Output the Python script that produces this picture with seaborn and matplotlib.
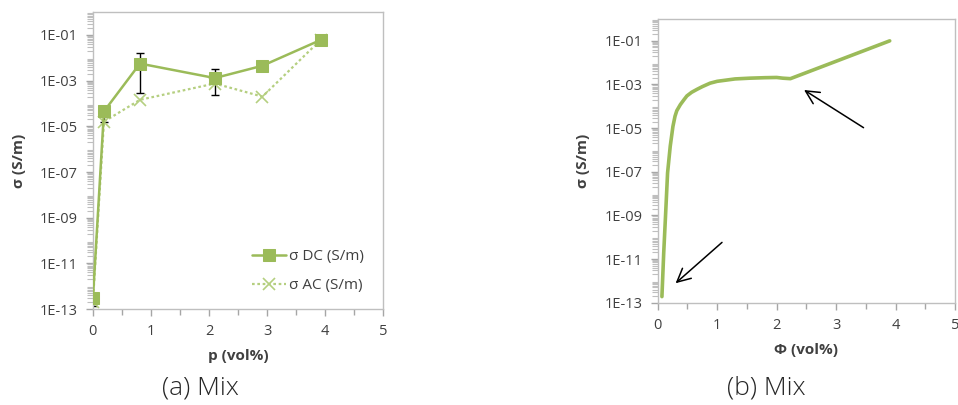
import numpy as np
import pandas as pd
import matplotlib
import matplotlib.pyplot as plt
import matplotlib.ticker as mticker
import seaborn as sns

plt.switch_backend('agg')

# panel (a): measured conductivity
p_vol = [0.0, 0.19, 0.81, 2.1, 2.92, 3.92]
sigma_dc = [3.0e-13, 4.5e-5, 5.6e-3, 1.3e-3, 4.5e-3, 6.0e-2]
sigma_ac = [2.0e-13, 1.6e-5, 1.45e-4, 7.5e-4, 2.0e-4, 6.0e-2]
dc_err_low = [1.3e-13, 1.5e-5, 2.8e-4, 2.4e-4, 4.5e-3, 6.0e-2]
dc_err_high = [3.0e-13, 4.5e-5, 1.7e-2, 3.2e-3, 4.5e-3, 6.0e-2]

# panel (b): model curve
phi_vol = [0.07, 0.10, 0.13, 0.165, 0.21, 0.255, 0.29, 0.32, 0.38, 0.44,
           0.49, 0.57, 0.66, 0.75, 0.88, 1.0, 1.16, 1.3, 1.55, 1.8, 2.0,
           2.1, 2.23, 3.9]
sigma_fit = [1.9e-13, 1.9e-11, 8.9e-10, 8.9e-8, 1.5e-6, 1.2e-5, 3.5e-5,
             6.3e-5, 1.2e-4, 2.0e-4, 3.0e-4, 4.4e-4, 6.0e-4, 8.0e-4,
             1.15e-3, 1.4e-3, 1.6e-3, 1.8e-3, 1.95e-3, 2.05e-3, 2.1e-3,
             1.95e-3, 1.85e-3, 0.1]

# arrows in panel (b): (tail, head)
arrows = [((3.46, 1.05e-5), (2.46, 5.6e-4)),
          ((1.08, 5.8e-11), (0.30, 7.8e-13))]

yticks_exp = [-13, -11, -9, -7, -5, -3, -1]
xticks = [0, 1, 2, 3, 4, 5]

sns.set_theme(style="white")
plt.rcParams['font.family'] = ['Open Sans', 'DejaVu Sans']

green = "#9BBB59"
grey_text = "#404040"
spine_col = "#BFBFBF"


def style_axis(ax, xlabel, ylabelpad):
    ax.set_yscale('log')
    ax.set_ylim(1e-13, 1.0)
    ax.set_xlim(0, 5)
    ax.yaxis.set_major_locator(mticker.FixedLocator([10.0 ** e for e in yticks_exp]))
    ax.yaxis.set_major_formatter(mticker.FixedFormatter([f"1E-{abs(e):02d}" for e in yticks_exp]))
    ax.yaxis.set_minor_locator(mticker.LogLocator(base=10, subs=np.arange(2, 10), numticks=30))
    ax.yaxis.set_minor_formatter(mticker.NullFormatter())
    ax.xaxis.set_major_locator(mticker.FixedLocator(xticks))
    ax.xaxis.set_minor_locator(mticker.MultipleLocator(0.5))
    ax.tick_params(axis='both', which='major', direction='out', length=5, width=1,
                   color="#A6A6A6", labelsize=10.5, labelcolor=grey_text, pad=6)
    ax.tick_params(axis='y', which='minor', direction='out', length=4, width=0.8,
                   color="#BFBFBF", left=True)
    ax.tick_params(axis='x', which='minor', direction='out', length=4, width=1,
                   color="#A6A6A6", bottom=True)
    ax.tick_params(left=True, bottom=True)
    for s in ax.spines.values():
        s.set_color(spine_col)
        s.set_linewidth(1)
    ax.set_xlabel(xlabel, fontsize=11, fontweight='bold', color=grey_text, labelpad=7)
    ax.set_ylabel("σ (S/m)", fontsize=11, fontweight='bold', color=grey_text,
                  labelpad=ylabelpad)


fig = plt.figure(figsize=(9.58, 4.05), dpi=100)
ax1 = fig.add_axes([0.097, 0.237, 0.303, 0.733])
ax2 = fig.add_axes([0.6866, 0.2526, 0.3104, 0.7004])

d1 = pd.DataFrame({'p': p_vol, 'dc': sigma_dc, 'ac': sigma_ac})
sns.lineplot(data=d1, x='p', y='ac', ax=ax1, color="#B5CF80", linestyle=(0, (1.2, 1.2)),
             linewidth=1.6, marker='x', markersize=8, markeredgewidth=1.2,
             markeredgecolor="#B5CF80", label="σ AC (S/m)", sort=False, estimator=None, zorder=3)
sns.lineplot(data=d1, x='p', y='dc', ax=ax1, color=green, linewidth=1.8,
             marker='s', markersize=9, markeredgecolor=green,
             label="σ DC (S/m)", sort=False, estimator=None, zorder=4)
yerr = [np.array(sigma_dc) - np.array(dc_err_low), np.array(dc_err_high) - np.array(sigma_dc)]
ax1.errorbar(p_vol, sigma_dc, yerr=yerr, fmt='none', ecolor='black', elinewidth=1,
             capsize=3, capthick=1, zorder=2)
style_axis(ax1, "p (vol%)", 10)
h, l = ax1.get_legend_handles_labels()
ax1.legend(h[::-1], l[::-1], loc='lower right', bbox_to_anchor=(0.97, 0.018), frameon=False,
           fontsize=11, labelcolor=grey_text, handlelength=2.2, handletextpad=0.2,
           labelspacing=0.9, borderaxespad=0.3)

d2 = pd.DataFrame({'phi': phi_vol, 'sigma': sigma_fit})
sns.lineplot(data=d2, x='phi', y='sigma', ax=ax2, color=green, linewidth=2.6,
             sort=False, estimator=None)
style_axis(ax2, "Φ (vol%)", 10)
for tail, head in arrows:
    ax2.annotate("", xy=head, xytext=tail,
                 arrowprops=dict(arrowstyle='->,head_length=0.8,head_width=0.4',
                                 color='black', lw=1.1, shrinkA=0, shrinkB=0))

fig.text(0.209, 0.042, "(a) Mix", ha='center', va='center', fontsize=19,
         fontweight='light', color="#262626")
fig.text(0.80, 0.042, "(b) Mix", ha='center', va='center', fontsize=19,
         fontweight='light', color="#262626")

fig.savefig("out.png", dpi=100)
